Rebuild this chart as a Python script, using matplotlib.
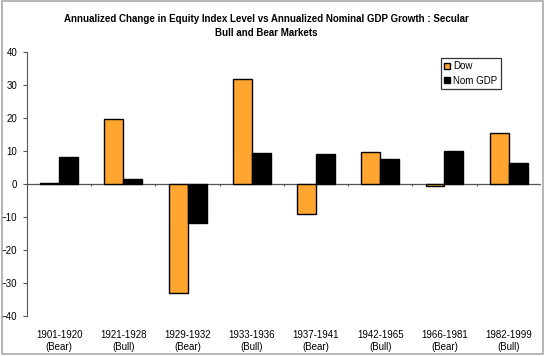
import numpy as np
import matplotlib.pyplot as plt

periods = ['1901-1920', '1921-1928', '1929-1932', '1933-1936',
           '1937-1941', '1942-1965', '1966-1981', '1982-1999']
regimes = ['Bear', 'Bull', 'Bear', 'Bull', 'Bear', 'Bull', 'Bear', 'Bull']
dow = [0.3, 19.7, -33.0, 31.8, -9.1, 9.6, -0.7, 15.5]
nom_gdp = [8.2, 1.5, -11.8, 9.4, 9.0, 7.5, 10.0, 6.3]

plt.rcParams['font.family'] = ['Liberation Sans', 'DejaVu Sans']

fig = plt.figure(figsize=(5.46, 3.56), dpi=100)
ax = fig.add_axes([0.0495, 0.112, 0.941, 0.742])

x = np.arange(len(periods))
w = 0.295
ax.bar(x - w / 2, dow, w, color='#FFA530', edgecolor='black', linewidth=1.0, label='Dow')
ax.bar(x + w / 2, nom_gdp, w, color='black', edgecolor='black', linewidth=1.0, label='Nom GDP')

ax.axhline(0, color='#555555', linewidth=0.9, zorder=0)
# small category-boundary ticks on the zero line
ax.vlines(np.arange(len(periods) + 1) - 0.5, -0.6, 0, color='#555555', linewidth=0.8)

ax.set_xlim(-0.5, len(periods) - 0.5)
ax.set_ylim(-40, 40)
ax.set_yticks(range(-40, 41, 10))
ax.set_xticks(x)
ax.set_xticklabels([f'{p}\n({r})' for p, r in zip(periods, regimes)], fontsize=7)
ax.tick_params(axis='x', length=0, pad=10)
ax.tick_params(axis='y', labelsize=7, length=3, color='#555555', pad=4)

for s in ['top', 'right', 'bottom']:
    ax.spines[s].set_visible(False)
ax.spines['left'].set_color('#555555')

leg = ax.legend(loc='upper right', bbox_to_anchor=(0.922, 0.977), fontsize=7,
                frameon=True, fancybox=False, handlelength=0.6, handleheight=0.6,
                handletextpad=0.3, borderpad=0.35, labelspacing=0.45,
                borderaxespad=0)
leg.get_frame().set_edgecolor('black')
leg.get_frame().set_linewidth(0.9)

fig.text(0.487, 0.96, 'Annualized Change in Equity Index Level vs Annualized Nominal GDP Growth : Secular\nBull and Bear Markets',
         ha='center', va='top', fontsize=7, fontweight='bold', linespacing=1.5)

fig.patches.append(plt.Rectangle((0.004, 0.006), 0.99, 0.99, transform=fig.transFigure,
                                 fill=False, edgecolor='#aaaaaa', linewidth=1.2))

fig.savefig('out.png', dpi=100)
